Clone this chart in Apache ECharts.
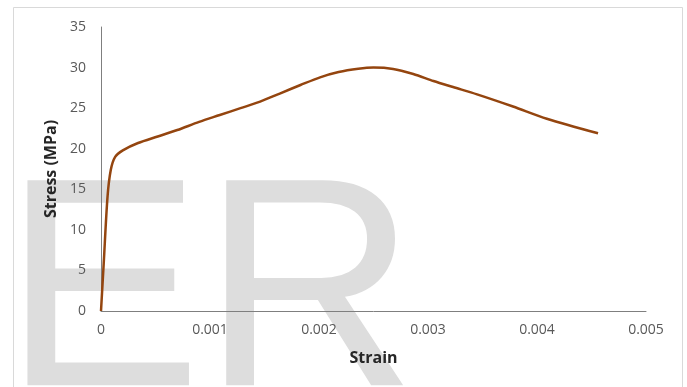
<!DOCTYPE html>
<html>
<head>
<meta charset="utf-8">
<script src="https://cdn.jsdelivr.net/npm/echarts@6/dist/echarts.min.js"></script>
<style>html,body{margin:0;padding:0;background:#fff}#c{width:687px;height:387px}</style>
</head>
<body>
<div id="c"></div>
<script>
var strain = [0, 0.000025, 0.00006, 0.00009, 0.00013, 0.0002, 0.00034, 0.00052, 0.0007, 0.0009, 0.00109, 0.00128, 0.00146, 0.00164, 0.00183, 0.00201, 0.00218, 0.00236, 0.0025, 0.00268, 0.002865, 0.00305, 0.00323, 0.00345, 0.00378, 0.00409, 0.00456];
var stress = [0, 5.9, 14.1, 17.4, 19.0, 19.8, 20.7, 21.5, 22.3, 23.3, 24.15, 25.0, 25.8, 26.8, 27.85, 28.8, 29.45, 29.85, 30.0, 29.83, 29.2, 28.35, 27.6, 26.7, 25.2, 23.7, 21.9];
var xTicks = ['0', '0.001', '0.002', '0.003', '0.004', '0.005'];
var yTicks = ['0', '5', '10', '15', '20', '25', '30', '35'];
var xTitle = 'Strain';
var yTitle = 'Stress (MPa)';
var watermark = 'ER';

var chart = echarts.init(document.getElementById('c'), null, {renderer: 'canvas'});
var data = strain.map(function (s, i) { return [s, stress[i]]; });
var font = '"Open Sans", sans-serif';
chart.setOption({
  animation: false,
  backgroundColor: '#ffffff',
  grid: {left: 101, top: 27, right: 41, bottom: 76, containLabel: false},
  xAxis: {
    type: 'value', min: 0, max: 0.005, interval: 0.001,
    name: xTitle, nameLocation: 'middle', nameGap: 39,
    nameTextStyle: {fontFamily: font, fontWeight: 'bold', fontSize: 16, color: '#262626'},
    axisLine: {show: true, onZero: false, lineStyle: {color: '#7f7f7f', width: 1}},
    axisTick: {show: false},
    splitLine: {show: false},
    axisLabel: {margin: 12, fontFamily: font, fontSize: 14, color: '#595959',
      formatter: function (v) { var i = Math.round(v / 0.001); return xTicks[i] !== undefined ? xTicks[i] : ''; }}
  },
  yAxis: {
    type: 'value', min: 0, max: 35, interval: 5,
    name: yTitle, nameLocation: 'middle', nameGap: 42,
    nameTextStyle: {fontFamily: font, fontWeight: 'bold', fontSize: 16, color: '#262626'},
    axisLine: {show: true, lineStyle: {color: '#7f7f7f', width: 1}},
    axisTick: {show: false},
    splitLine: {show: false},
    axisLabel: {margin: 15, fontFamily: font, fontSize: 14, color: '#595959',
      formatter: function (v) { var i = Math.round(v / 5); return yTicks[i] !== undefined ? yTicks[i] : ''; }}
  },
  series: [{
    type: 'line', data: data, smooth: 0.3, showSymbol: false, z: 5,
    lineStyle: {color: '#94450f', width: 2.5}
  }],
  graphic: [
    {type: 'text', z: -100, x: 3, y: 154, style: {text: watermark, font: '298px "Liberation Sans", Arial, sans-serif', fill: '#dddddd', textVerticalAlign: 'top'}},
    {type: 'rect', z: -50, shape: {x: 13.5, y: 7.5, width: 669, height: 400}, style: {fill: 'none', stroke: '#d9d9d9', lineWidth: 1}}
  ]
});
</script>
</body>
</html>
